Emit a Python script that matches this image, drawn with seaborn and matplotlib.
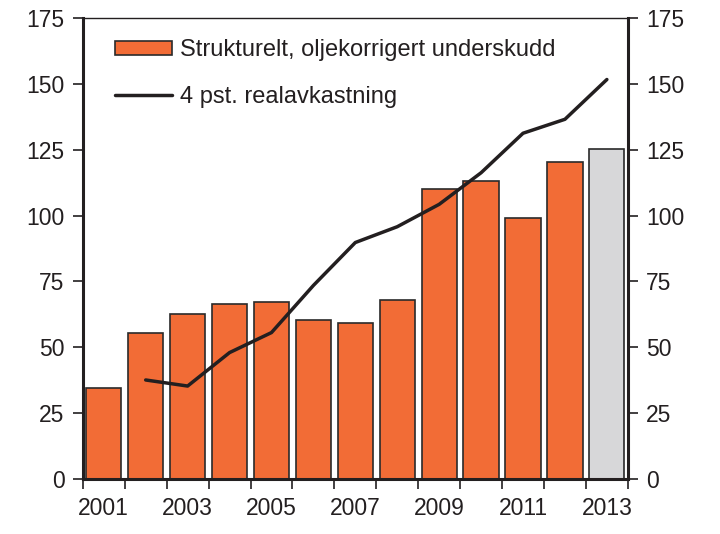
import numpy as np
import pandas as pd
import matplotlib
matplotlib.use('Agg')
import matplotlib.pyplot as plt
import seaborn as sns
from matplotlib.patches import Patch
from matplotlib.lines import Line2D

# data (bn NOK)
years = [2001, 2002, 2003, 2004, 2005, 2006, 2007, 2008, 2009, 2010, 2011, 2012, 2013]
deficit = [34.5, 55.6, 62.5, 66.6, 67.4, 60.4, 59.2, 68.1, 110.0, 113.0, 99.0, 120.2, 125.5]
real_return = [np.nan, 37.6, 35.3, 48.0, 55.6, 73.5, 89.8, 95.8, 104.3, 116.3, 131.3, 136.6, 151.7]
bar_label = 'Strukturelt, oljekorrigert underskudd'
line_label = '4 pst. realavkastning'

ORANGE = '#F26C36'
GREY = '#D7D7D9'
bar_colors = [ORANGE] * (len(years) - 1) + [GREY]

df = pd.DataFrame({'year': years, 'deficit': deficit, 'ret': real_return})
df['pos'] = np.arange(len(df))

sns.set_style('white')
plt.rcParams['font.family'] = ['Liberation Sans', 'DejaVu Sans']

fig = plt.figure(figsize=(7.2, 5.34), dpi=100)
ax = fig.add_axes([0.115, 0.103, 0.757, 0.863])

sns.barplot(data=df, x='year', y='deficit', hue='year', palette=bar_colors,
            legend=False, width=0.84, edgecolor='#2a2a2a', linewidth=1.2,
            saturation=1, ax=ax)
sns.lineplot(data=df, x='pos', y='ret', color='#231f20', linewidth=2.5, ax=ax)

ax.set_ylim(0, 175)
ax.set_yticks(np.arange(0, 176, 25))
ax.set_xlim(-0.5, len(years) - 0.5)

# ticks between bars, labels on every second year
ax.set_xticks(np.arange(-0.5, len(years), 1), minor=False)
ax.set_xticklabels([])
ax.set_xticks(np.arange(0, len(years), 2), minor=True)
ax.set_xticklabels([str(y) for y in years[::2]], minor=True)
ax.tick_params(axis='x', which='major', direction='out', length=7, width=1.2,
               bottom=True, color='#231f20')
ax.tick_params(axis='x', which='minor', length=0, labelsize=16.5, pad=13,
               labelcolor='#231f20')
ax.tick_params(axis='y', direction='out', length=7, width=1.2, left=True,
               right=True, labelright=True, labelsize=16.5, color='#231f20',
               labelcolor='#231f20', pad=6)
ax.set_xlabel('')
ax.set_ylabel('')

for side in ['left', 'right', 'bottom']:
    ax.spines[side].set_linewidth(2.2)
    ax.spines[side].set_color('#231f20')
ax.spines['top'].set_linewidth(1.0)
ax.spines['top'].set_color('#231f20')

handles = [Patch(facecolor=ORANGE, edgecolor='#2a2a2a', linewidth=1.2),
           Line2D([0], [0], color='#231f20', linewidth=2.5)]
ax.legend(handles, [bar_label, line_label], loc='upper left',
          bbox_to_anchor=(0.021, 1.0), frameon=False, fontsize=17,
          handlelength=2.4, handleheight=0.55, handletextpad=0.35,
          labelspacing=1.05, labelcolor='#231f20')

fig.savefig('out.png', dpi=100)
